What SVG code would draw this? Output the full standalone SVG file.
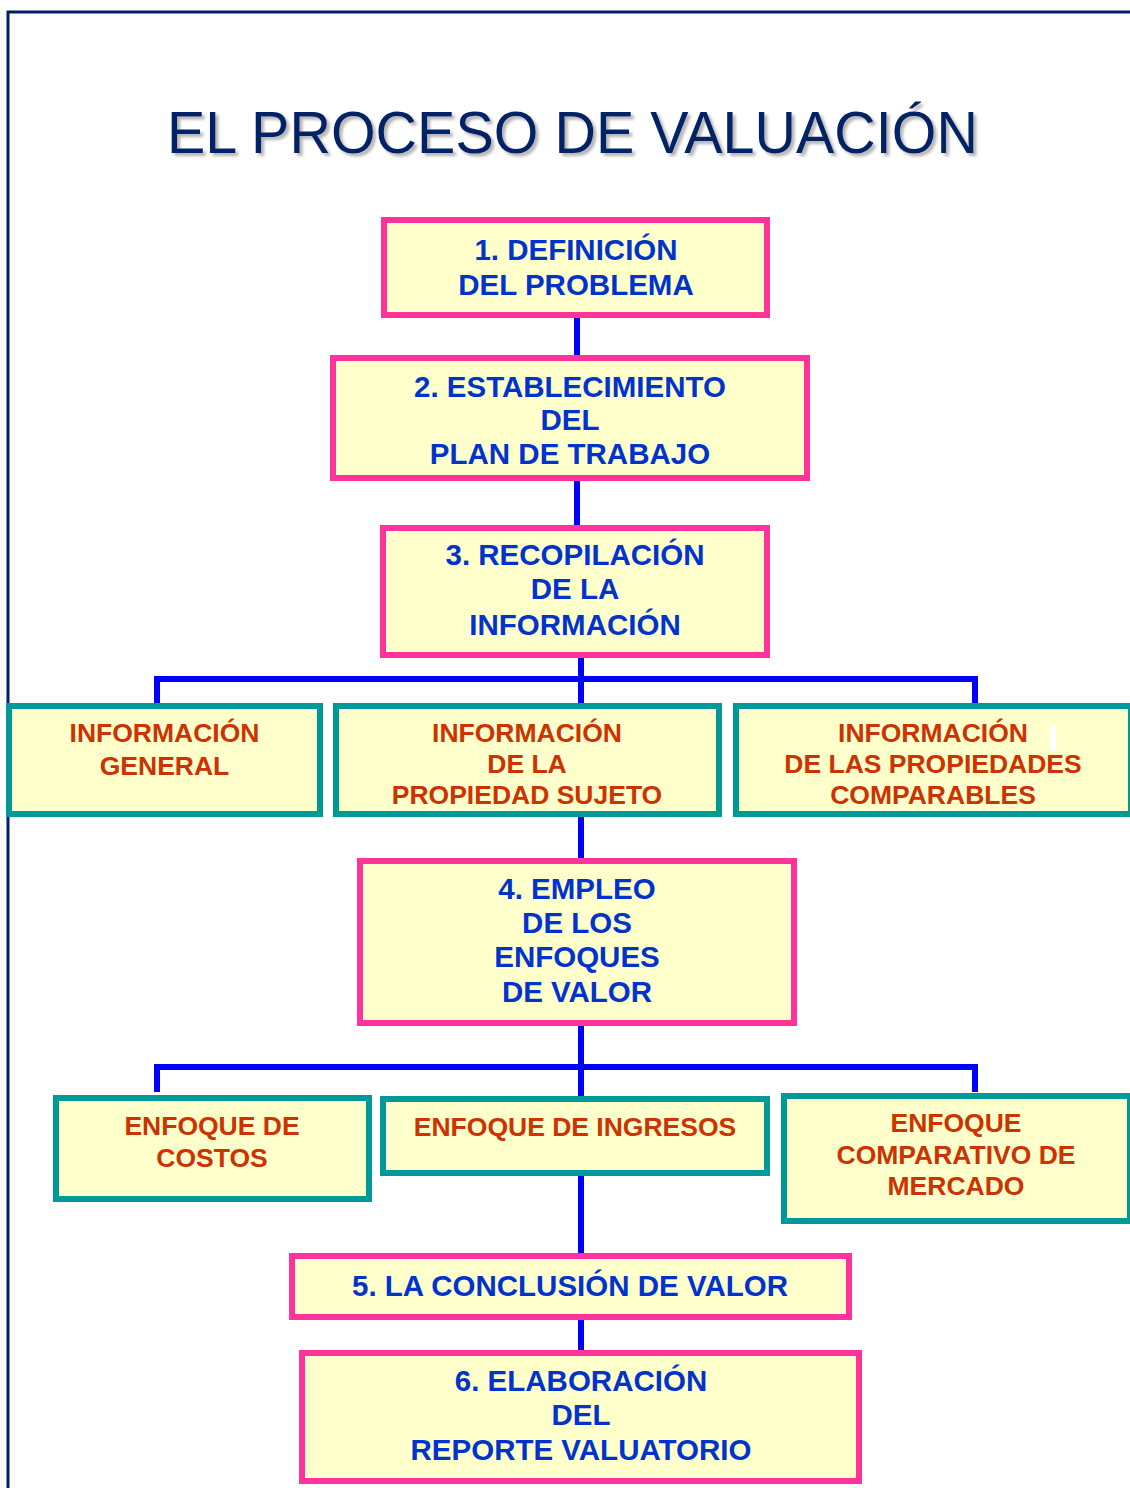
<svg xmlns="http://www.w3.org/2000/svg" width="1130" height="1488" viewBox="0 0 1130 1488">
<defs>
<filter id="sh" x="-5%" y="-20%" width="110%" height="150%">
<feDropShadow dx="3" dy="3" stdDeviation="1.5" flood-color="#808080" flood-opacity="0.6"/>
</filter>
</defs>
<style>
.main{fill:#FFFFCC;stroke:#FF3399;stroke-width:6}
.sub{fill:#FFFFCC;stroke:#009999;stroke-width:6}
.bt{font-family:"Liberation Sans",Arial,sans-serif;font-weight:bold;font-size:29.5px;fill:#0033CC;text-anchor:middle}
.ot{font-family:"Liberation Sans",Arial,sans-serif;font-weight:bold;font-size:26.5px;fill:#CC3300;text-anchor:middle}
.con{fill:none;stroke:#0000FF;stroke-width:6}
</style>
<rect width="1130" height="1488" fill="#FFFFFF"/>
<path d="M8,1488 V12 H1130" fill="none" stroke="#002060" stroke-width="3"/>
<text x="572.5" y="153" font-family="'Liberation Sans',Arial,sans-serif" font-size="59" fill="#002266" text-anchor="middle" textLength="811" lengthAdjust="spacingAndGlyphs" filter="url(#sh)">EL PROCESO DE VALUACIÓN</text>

<g id="connectors">
<path class="con" d="M577,318 V355"/>
<path class="con" d="M577,481 V525"/>
<path class="con" d="M581,658 V704"/>
<path class="con" d="M157,704 V679 H975 V704"/>
<path class="con" d="M581,816 V859"/>
<path class="con" d="M581,1026 V1097"/>
<path class="con" d="M157,1092 V1067 H975 V1092"/>
<path class="con" d="M581,1175 V1254"/>
<path class="con" d="M581,1320 V1351"/>
</g>

<g id="n1">
<rect class="main" x="384" y="220" width="383" height="95"/>
<text class="bt" x="576" y="260">1. DEFINICIÓN</text>
<text class="bt" x="576" y="295">DEL PROBLEMA</text>
</g>
<g id="n2">
<rect class="main" x="333" y="358" width="474" height="120"/>
<text class="bt" x="570" y="397">2. ESTABLECIMIENTO</text>
<text class="bt" x="570" y="430">DEL</text>
<text class="bt" x="570" y="464">PLAN DE TRABAJO</text>
</g>
<g id="n3">
<rect class="main" x="383" y="528" width="384" height="127"/>
<text class="bt" x="575" y="565">3. RECOPILACIÓN</text>
<text class="bt" x="575" y="599">DE LA</text>
<text class="bt" x="575" y="635">INFORMACIÓN</text>
</g>
<g id="infoGeneral">
<rect class="sub" x="9" y="706" width="311" height="108"/>
<text class="ot" x="164.5" y="742">INFORMACIÓN</text>
<text class="ot" x="164.5" y="775">GENERAL</text>
</g>
<g id="infoSujeto">
<rect class="sub" x="336" y="706" width="383" height="108"/>
<text class="ot" x="527" y="742">INFORMACIÓN</text>
<text class="ot" x="527" y="773">DE LA</text>
<text class="ot" x="527" y="804">PROPIEDAD SUJETO</text>
</g>
<g id="infoComparables">
<rect class="sub" x="736" y="706" width="395" height="108"/>
<rect x="1050" y="725" width="6" height="26" fill="#FFFFFF"/>
<text class="ot" x="933" y="742">INFORMACIÓN</text>
<text class="ot" x="933" y="773">DE LAS PROPIEDADES</text>
<text class="ot" x="933" y="804">COMPARABLES</text>
</g>
<g id="n4">
<rect class="main" x="360" y="861" width="434" height="162"/>
<text class="bt" x="577" y="899">4. EMPLEO</text>
<text class="bt" x="577" y="933">DE LOS</text>
<text class="bt" x="577" y="967">ENFOQUES</text>
<text class="bt" x="577" y="1002">DE VALOR</text>
</g>
<g id="costos">
<rect class="sub" x="56" y="1098" width="313" height="101"/>
<text class="ot" x="212" y="1135">ENFOQUE DE</text>
<text class="ot" x="212" y="1167">COSTOS</text>
</g>
<g id="ingresos">
<rect class="sub" x="383" y="1099" width="384" height="74"/>
<text class="ot" x="575" y="1136">ENFOQUE DE INGRESOS</text>
</g>
<g id="mercado">
<rect class="sub" x="784" y="1096" width="346" height="125"/>
<text class="ot" x="956" y="1132">ENFOQUE</text>
<text class="ot" x="956" y="1164">COMPARATIVO DE</text>
<text class="ot" x="956" y="1195">MERCADO</text>
</g>
<g id="n5">
<rect class="main" x="292" y="1256" width="557" height="61"/>
<text class="bt" x="570" y="1296">5. LA CONCLUSIÓN DE VALOR</text>
</g>
<g id="n6">
<rect class="main" x="302" y="1353" width="557" height="128"/>
<text class="bt" x="581" y="1391">6. ELABORACIÓN</text>
<text class="bt" x="581" y="1425">DEL</text>
<text class="bt" x="581" y="1460">REPORTE VALUATORIO</text>
</g>
</svg>
